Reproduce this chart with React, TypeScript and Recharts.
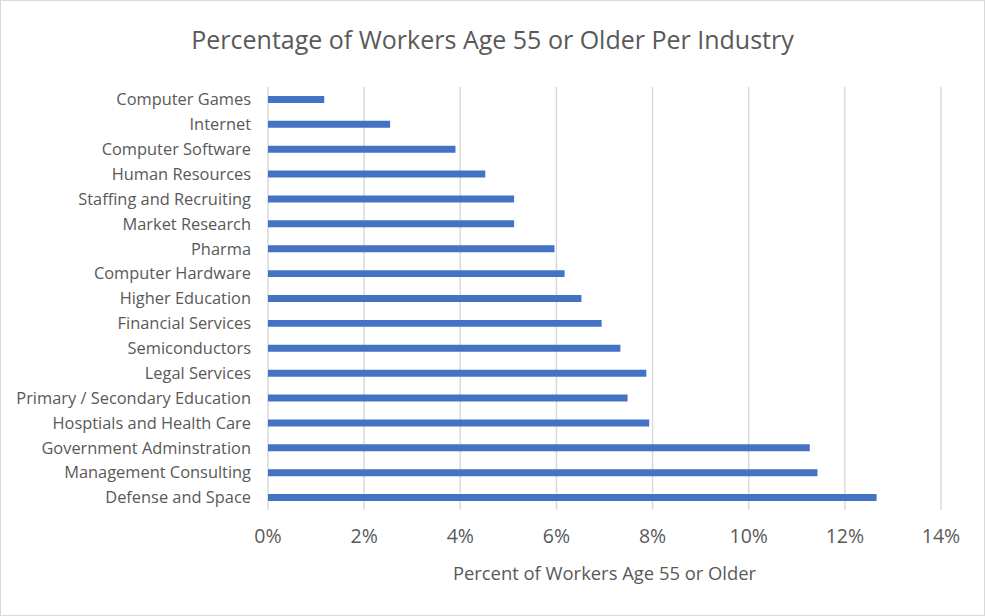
import React from "react";
import { BarChart, Bar, XAxis, YAxis, CartesianGrid } from "recharts";

const industries = [
  "Computer Games",
  "Internet",
  "Computer Software",
  "Human Resources",
  "Staffing and Recruiting",
  "Market Research",
  "Pharma",
  "Computer Hardware",
  "Higher Education",
  "Financial Services",
  "Semiconductors",
  "Legal Services",
  "Primary / Secondary Education",
  "Hosptials and Health Care",
  "Government Adminstration",
  "Management Consulting",
  "Defense and Space",
];

const shareOver55 = [
  0.0117, 0.0254, 0.039, 0.0452, 0.0512, 0.0512, 0.0596, 0.0617, 0.0652,
  0.0694, 0.0733, 0.0787, 0.0748, 0.0793, 0.1127, 0.1143, 0.1266,
];

const xTicks = [0, 0.02, 0.04, 0.06, 0.08, 0.1, 0.12, 0.14];

const data = industries.map((name, i) => ({ name, value: shareOver55[i] }));

const font = "'Open Sans', sans-serif";
const textColor = "#595959";

export default function App() {
  return (
    <div
      style={{
        position: "absolute",
        left: 0,
        top: 0,
        width: 985,
        height: 616,
        boxSizing: "border-box",
        border: "1px solid #d9d9d9",
        background: "#fff",
        fontFamily: font,
      }}
    >
      <div
        style={{
          position: "absolute",
          top: 21,
          left: 0,
          width: 983,
          textAlign: "center",
          fontSize: 25,
          color: textColor,
        }}
      >
        Percentage of Workers Age 55 or Older Per Industry
      </div>
      <BarChart
        width={983}
        height={614}
        data={data}
        layout="vertical"
        barCategoryGap="64%"
        margin={{ top: 86, right: 43, left: 0, bottom: 0 }}
        style={{ position: "absolute", left: 0, top: 0 }}
      >
        <CartesianGrid horizontal={false} stroke="#d9d9d9" strokeWidth={1.5} />
        <XAxis
          type="number"
          domain={[0, 0.14]}
          ticks={xTicks}
          tickFormatter={(v) => `${Math.round(v * 100)}%`}
          axisLine={false}
          tickLine={false}
          tickMargin={13}
          height={105}
          tick={{ fill: textColor, fontSize: 19.5, fontFamily: font }}
          label={{
            value: "Percent of Workers Age 55 or Older",
            position: "insideBottom",
            offset: 35,
            fill: textColor,
            fontSize: 18.4,
            fontFamily: font,
          }}
        />
        <YAxis
          type="category"
          dataKey="name"
          width={267}
          axisLine={false}
          tickLine={false}
          tickMargin={11}
          interval={0}
          tick={{ fill: textColor, fontSize: 16.4, fontFamily: font }}
        />
        <Bar dataKey="value" fill="#4472c4" isAnimationActive={false} />
      </BarChart>
    </div>
  );
}
